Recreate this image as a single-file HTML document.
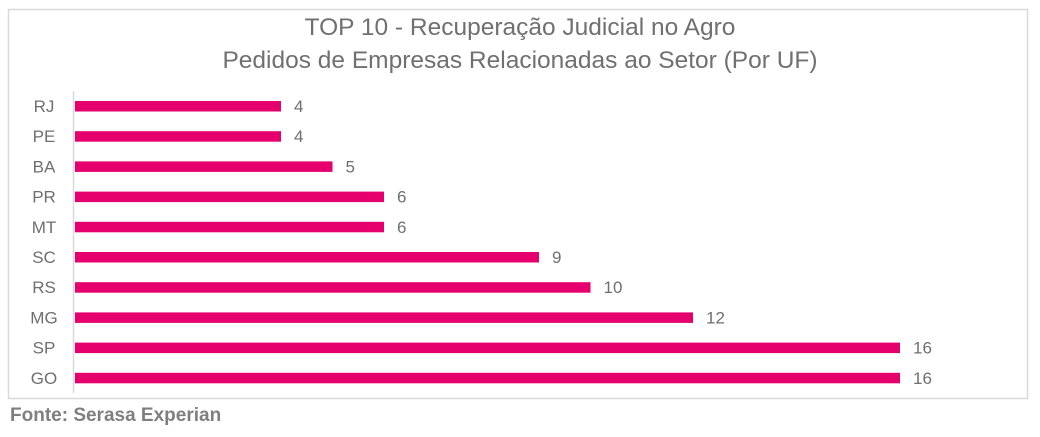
<!DOCTYPE html><html><head><style>body{margin:0;width:1040px;height:432px;background:#fff;overflow:hidden}</style></head><body>
<svg width="1040" height="432" xmlns="http://www.w3.org/2000/svg" font-family="Liberation Sans, sans-serif">
<rect x="8.5" y="9.5" width="1019" height="389" fill="#fff" stroke="#d9d9d9" stroke-width="1.5"/>
<text x="520" y="35" text-anchor="middle" font-size="24.5" fill="#707070">TOP 10 - Recuperação Judicial no Agro</text>
<text x="520" y="68" text-anchor="middle" font-size="24.5" fill="#707070">Pedidos de Empresas Relacionadas ao Setor (Por UF)</text>
<line x1="73.5" y1="91" x2="73.5" y2="393" stroke="#d9d9d9" stroke-width="1.5"/>
<text x="10" y="421" font-size="19" font-weight="bold" fill="#7f7f7f">Fonte: Serasa Experian</text>
<g font-size="17" fill="#6f6f6f">
<rect x="75" y="101" width="206" height="10.5" fill="#e6006e"/><text x="44" y="112" text-anchor="middle">RJ</text><text x="294" y="112">4</text>
<rect x="75" y="131.2" width="206" height="10.5" fill="#e6006e"/><text x="44" y="142.2" text-anchor="middle">PE</text><text x="294" y="142.2">4</text>
<rect x="75" y="161.4" width="257.5" height="10.5" fill="#e6006e"/><text x="44" y="172.4" text-anchor="middle">BA</text><text x="345.5" y="172.4">5</text>
<rect x="75" y="191.6" width="309" height="10.5" fill="#e6006e"/><text x="44" y="202.6" text-anchor="middle">PR</text><text x="397" y="202.6">6</text>
<rect x="75" y="221.8" width="309" height="10.5" fill="#e6006e"/><text x="44" y="232.8" text-anchor="middle">MT</text><text x="397" y="232.8">6</text>
<rect x="75" y="252" width="464" height="10.5" fill="#e6006e"/><text x="44" y="263" text-anchor="middle">SC</text><text x="552" y="263">9</text>
<rect x="75" y="282.2" width="515.5" height="10.5" fill="#e6006e"/><text x="44" y="293.2" text-anchor="middle">RS</text><text x="603.5" y="293.2">10</text>
<rect x="75" y="312.4" width="618" height="10.5" fill="#e6006e"/><text x="44" y="323.4" text-anchor="middle">MG</text><text x="706" y="323.4">12</text>
<rect x="75" y="342.6" width="825" height="10.5" fill="#e6006e"/><text x="44" y="353.6" text-anchor="middle">SP</text><text x="913" y="353.6">16</text>
<rect x="75" y="372.8" width="825" height="10.5" fill="#e6006e"/><text x="44" y="383.8" text-anchor="middle">GO</text><text x="913" y="383.8">16</text>
</g>
</svg>
</body></html>
